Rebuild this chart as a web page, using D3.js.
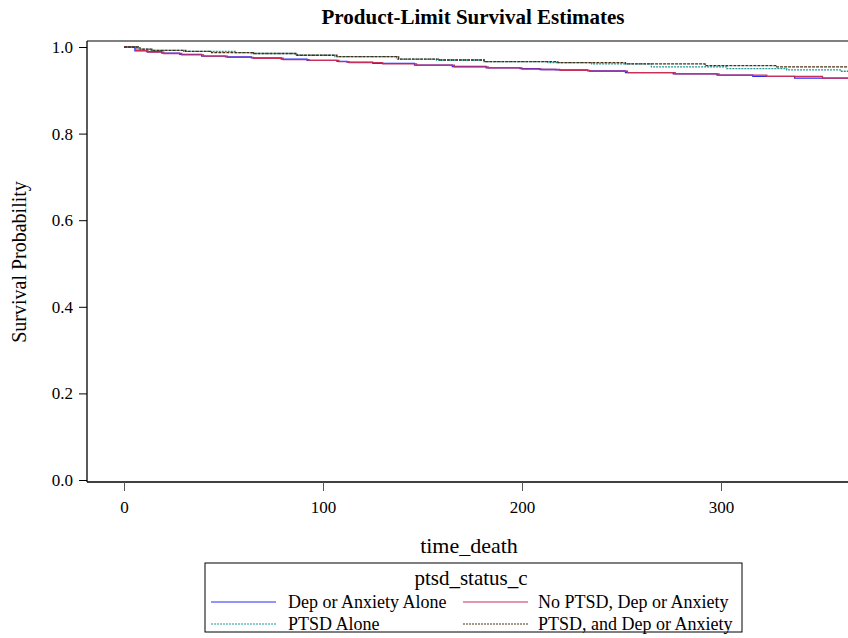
<!DOCTYPE html>
<html lang="en">
<head>
<meta charset="utf-8">
<title>Product-Limit Survival Estimates</title>
<script src="https://cdn.jsdelivr.net/npm/d3@7"></script>
<style>
body{margin:0;background:#fff;}
svg{display:block;font-family:"Liberation Serif","Times New Roman",serif;}
</style>
</head>
<body>
<div id="chart"></div>
<script>
var width = 848,
    height = 638;

// series: step times and survival after each step
var depTimes = [0, 5.5, 11.5, 19, 28, 39, 51, 64, 79, 92, 107, 112, 125, 146, 165, 182, 199, 209, 217, 233, 252, 276, 298, 316, 337, 365];
var depSurv  = [1.0, 0.991, 0.989, 0.986, 0.983, 0.979, 0.977, 0.975, 0.972, 0.969, 0.967, 0.965, 0.962, 0.958, 0.955, 0.952, 0.950, 0.948, 0.947, 0.945, 0.941, 0.938, 0.935, 0.932, 0.928, 0.928];

var noTimes = [0, 6, 12, 20, 29, 40, 52, 65, 80, 93, 108, 113, 130, 147, 166, 183, 200, 210, 219, 234, 253, 277, 299, 323, 351, 365];
var noSurv  = [1.0, 0.992, 0.988, 0.985, 0.982, 0.979, 0.976, 0.974, 0.971, 0.969, 0.966, 0.964, 0.961, 0.958, 0.954, 0.952, 0.949, 0.948, 0.946, 0.944, 0.941, 0.938, 0.935, 0.932, 0.928, 0.928];

var ptsdTimes = [0, 7, 13, 30, 56, 64, 86, 106, 137, 157, 181, 213, 235, 265, 303, 333, 360, 365];
var ptsdSurv  = [1.0, 0.995, 0.992, 0.990, 0.987, 0.985, 0.981, 0.978, 0.972, 0.970, 0.966, 0.964, 0.961, 0.954, 0.950, 0.947, 0.944, 0.944];

var bothTimes = [0, 8, 14, 31, 44, 65, 87, 107, 138, 158, 181, 218, 252, 292, 328, 365];
var bothSurv  = [1.0, 0.995, 0.992, 0.990, 0.987, 0.985, 0.981, 0.978, 0.972, 0.970, 0.966, 0.964, 0.961, 0.957, 0.954, 0.954];

var seriesNames = ["Dep or Anxiety Alone", "No PTSD, Dep or Anxiety", "PTSD Alone", "PTSD, and Dep or Anxiety"];
var seriesColors = ["#2a2aff", "#c8305a", "#1e9a9a", "#4a3018"];
var seriesDash = [null, null, "2,1", "3,1"];

var xTicks = [0, 100, 200, 300];
var yTicks = [0, 0.2, 0.4, 0.6, 0.8, 1.0];

var series = [
  {name: seriesNames[0], t: depTimes, s: depSurv},
  {name: seriesNames[1], t: noTimes, s: noSurv},
  {name: seriesNames[2], t: ptsdTimes, s: ptsdSurv},
  {name: seriesNames[3], t: bothTimes, s: bothSurv}
];

var svg = d3.select("#chart").append("svg")
    .attr("width", width)
    .attr("height", height);

var x = d3.scaleLinear().domain([0, 300]).range([124, 721]);
var y = d3.scaleLinear().domain([0, 1]).range([480, 47]);

var frameL = 87, frameT = 41, frameB = 482;

// frame
svg.append("line").attr("x1", frameL).attr("x2", width).attr("y1", frameT).attr("y2", frameT)
  .attr("stroke", "#808080").attr("stroke-width", 2);
svg.append("line").attr("x1", frameL).attr("x2", width).attr("y1", frameB).attr("y2", frameB)
  .attr("stroke", "#000").attr("stroke-width", 1.3);
svg.append("line").attr("x1", frameL).attr("x2", frameL).attr("y1", frameT).attr("y2", frameB)
  .attr("stroke", "#000").attr("stroke-width", 1.3);

// y axis
var yAxis = svg.append("g").attr("transform", "translate(" + frameL + ",0)")
  .call(d3.axisLeft(y).tickValues(yTicks).tickFormat(d3.format(".1f")).tickSize(8).tickPadding(6));
yAxis.select(".domain").remove();
yAxis.selectAll("text").attr("font-size", 17).attr("font-family", "Liberation Serif").attr("fill", "#000");
yAxis.selectAll("line").attr("stroke", "#000");

// x axis
var xAxis = svg.append("g").attr("transform", "translate(0," + frameB + ")")
  .call(d3.axisBottom(x).tickValues(xTicks).tickSize(9).tickPadding(10));
xAxis.select(".domain").remove();
xAxis.selectAll("text").attr("font-size", 17).attr("font-family", "Liberation Serif").attr("fill", "#000");
xAxis.selectAll("line").attr("stroke", "#555");

// curves
var line = d3.line()
  .x(function(d){ return x(d[0]); })
  .y(function(d){ return y(d[1]); })
  .curve(d3.curveStepAfter);

var plot = svg.append("g");
series.forEach(function(sr, i){
  var pts = sr.t.map(function(t, j){ return [t, sr.s[j]]; });
  plot.append("path")
    .datum(pts)
    .attr("d", line)
    .attr("fill", "none")
    .attr("stroke", seriesColors[i])
    .attr("stroke-width", 1.3)
    .attr("stroke-dasharray", seriesDash[i]);
});

// title and labels
svg.append("text").attr("x", 473).attr("y", 24).attr("text-anchor", "middle")
  .attr("font-size", 21).attr("font-weight", "bold").text("Product-Limit Survival Estimates");

svg.append("text").attr("transform", "translate(26,262) rotate(-90)").attr("text-anchor", "middle")
  .attr("font-size", 20).text("Survival Probability");

svg.append("text").attr("x", 469).attr("y", 553).attr("text-anchor", "middle")
  .attr("font-size", 22).text("time_death");

// legend
var lg = svg.append("g");
lg.append("rect").attr("x", 205).attr("y", 563).attr("width", 537).attr("height", 69)
  .attr("fill", "none").attr("stroke", "#000").attr("stroke-width", 1);
lg.append("text").attr("x", 471).attr("y", 585).attr("text-anchor", "middle")
  .attr("font-size", 21).text("ptsd_status_c");

var lgPos = [[211, 602, 288], [463, 602, 538], [211, 624, 288], [463, 624, 538]];
seriesNames.forEach(function(n, i){
  var p = lgPos[i];
  lg.append("line").attr("x1", p[0]).attr("x2", p[0] + 65).attr("y1", p[1]).attr("y2", p[1])
    .attr("stroke", seriesColors[i]).attr("stroke-width", 1.2)
    .attr("stroke-dasharray", seriesDash[i] ? "2,1" : null);
  lg.append("text").attr("x", p[2]).attr("y", p[1] + 6)
    .attr("font-size", 18).text(n);
});
</script>
</body>
</html>
